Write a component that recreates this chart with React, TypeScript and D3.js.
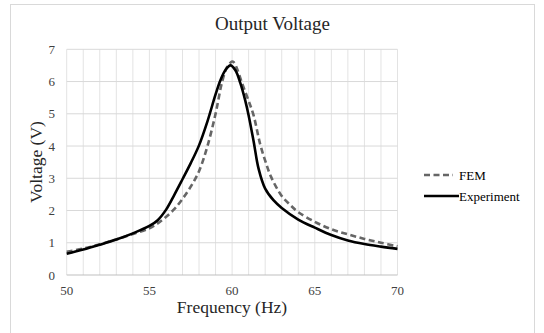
import React from "react";
import * as d3 from "d3";

const expFreq = [50,51,52,53,54,55,55.5,56,56.5,57,57.5,58,58.5,59,59.3,59.6,59.9,60.2,60.5,60.8,61,61.3,61.6,62,62.5,63,64,65,66,67,68,69,70];
const expVolt = [0.66,0.79,0.94,1.1,1.29,1.52,1.7,2.02,2.48,2.97,3.47,4.02,4.75,5.6,6.05,6.36,6.5,6.35,5.95,5.4,4.95,4.15,3.3,2.68,2.32,2.08,1.72,1.47,1.24,1.07,0.96,0.88,0.81];

const femFreq = [50,51,52,53,54,55,55.5,56,56.5,57,57.5,58,58.5,59,59.4,59.7,60,60.1,60.3,60.6,61,61.3,61.7,62,62.35,63,63.5,64,65,66,67,68,69,70];
const femVolt = [0.72,0.82,0.95,1.1,1.27,1.45,1.6,1.8,2.04,2.36,2.74,3.22,3.98,5.0,6.0,6.45,6.62,6.6,6.4,5.95,5.4,4.95,4.05,3.55,3.05,2.45,2.18,1.95,1.65,1.42,1.26,1.12,1.0,0.89];

const xTicks = [50,55,60,65,70];
const yTicks = [0,1,2,3,4,5,6,7];
const xGrid = d3.range(50, 71, 1);

const seriesNames = ["FEM", "Experiment"];

const FONT = "'Liberation Serif', 'Times New Roman', serif";

export default function App() {
  const W = 544, H = 333;
  const x = d3.scaleLinear().domain([50, 70]).range([66.7, 397.5]);
  const y = d3.scaleLinear().domain([0, 7]).range([275, 49.3]);
  const line = d3.line<[number, number]>()
    .x(d => x(d[0]))
    .y(d => y(d[1]))
    .curve(d3.curveCatmullRom.alpha(0.5));
  const expPts = expFreq.map((f, i) => [f, expVolt[i]] as [number, number]);
  const femPts = femFreq.map((f, i) => [f, femVolt[i]] as [number, number]);

  return (
    <svg width={W} height={H} style={{ position: "absolute", left: 0, top: 0 }}>
      <rect x={0} y={0} width={W} height={H} fill="#fff" />
      <rect x={10.5} y={4.5} width={524} height={340} fill="#fff" stroke="#d9d9d9" strokeWidth={1} />
      <text x={272.5} y={30} textAnchor="middle" fontFamily={FONT} fontSize={19} fill="#262626">Output Voltage</text>

      {xGrid.map(v => (
        <line key={"vx" + v} x1={x(v)} x2={x(v)} y1={y(7)} y2={y(0)} stroke="#e3e3e3" strokeWidth={1} />
      ))}
      {yTicks.map(v => (
        <line key={"hy" + v} x1={x(50)} x2={x(70)} y1={y(v)} y2={y(v)} stroke={v === 0 ? "#bfbfbf" : "#d9d9d9"} strokeWidth={1} />
      ))}

      {yTicks.map(v => (
        <text key={"yt" + v} x={55} y={y(v) + 4.5} textAnchor="end" fontFamily={FONT} fontSize={13} fill="#404040">{v}</text>
      ))}
      {xTicks.map(v => (
        <text key={"xt" + v} x={x(v)} y={295} textAnchor="middle" fontFamily={FONT} fontSize={13} fill="#404040">{v}</text>
      ))}

      <text x={232} y={313} textAnchor="middle" fontFamily={FONT} fontSize={17.5} fill="#262626">Frequency (Hz)</text>
      <text transform={`translate(42,162) rotate(-90)`} textAnchor="middle" fontFamily={FONT} fontSize={17.5} fill="#262626">Voltage (V)</text>

      <path d={line(femPts) || ""} fill="none" stroke="#666666" strokeWidth={2.6} strokeDasharray="6,3.5" />
      <path d={line(expPts) || ""} fill="none" stroke="#000" strokeWidth={2.6} />

      <line x1={424} x2={453} y1={175} y2={175} stroke="#666666" strokeWidth={2.6} strokeDasharray="6,3.5" />
      <text x={459} y={179.5} fontFamily={FONT} fontSize={13} fill="#000">{seriesNames[0]}</text>
      <line x1={424} x2={459} y1={196} y2={196} stroke="#000" strokeWidth={2.6} />
      <text x={459} y={200.5} fontFamily={FONT} fontSize={13} fill="#000">{seriesNames[1]}</text>
    </svg>
  );
}
